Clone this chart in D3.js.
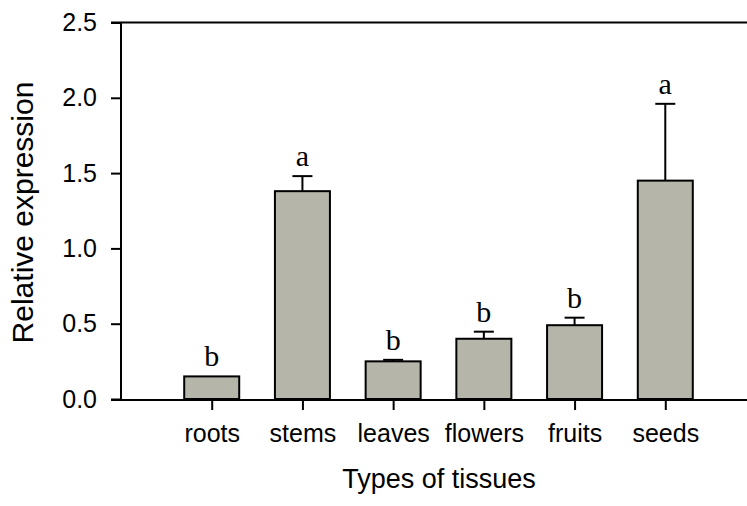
<!DOCTYPE html>
<html><head><meta charset="utf-8">
<script src="https://cdn.jsdelivr.net/npm/d3@7"></script>
<style>body{margin:0;background:#fff}svg{display:block}</style>
</head><body>
<svg id="chart" width="747" height="506"></svg>
<script>
const categories = ["roots","stems","leaves","flowers","fruits","seeds"];
const values = [0.15, 1.38, 0.25, 0.40, 0.49, 1.45];
const errors = [0.0, 0.10, 0.01, 0.047, 0.05, 0.51];
const letters = ["b","a","b","b","b","a"];
const yTicks = [0.0, 0.5, 1.0, 1.5, 2.0, 2.5];

const svg = d3.select("#chart");
const mLeft = 121, mRight = 756, mTop = 22.5, mBottom = 399;
const x = d3.scalePoint().domain(categories).range([mLeft, mRight]).padding(1);
const y = d3.scaleLinear().domain([0, 2.5]).range([mBottom, mTop]);
const barW = 55;

// bars
svg.selectAll("rect.bar").data(categories).enter().append("rect")
  .attr("x", d => x(d) - barW/2)
  .attr("y", (d,i) => y(values[i]))
  .attr("width", barW)
  .attr("height", (d,i) => y(0) - y(values[i]))
  .attr("fill", "#b5b5aa").attr("stroke", "#000").attr("stroke-width", 2);

// error bars
const eg = svg.append("g").attr("stroke", "#000").attr("stroke-width", 2);
categories.forEach((c,i) => {
  if (errors[i] <= 0) return;
  eg.append("line").attr("x1", x(c)).attr("x2", x(c)).attr("y1", y(values[i])).attr("y2", y(values[i]+errors[i]));
  eg.append("line").attr("x1", x(c)-10).attr("x2", x(c)+10).attr("y1", y(values[i]+errors[i])).attr("y2", y(values[i]+errors[i]));
});

// letters
svg.selectAll("text.sig").data(categories).enter().append("text")
  .attr("x", d => x(d))
  .attr("y", (d,i) => y(values[i]+errors[i]) - 10)
  .attr("text-anchor", "middle")
  .attr("font-family", "'Liberation Serif', 'Times New Roman', serif")
  .attr("font-size", 30)
  .text((d,i) => letters[i]);

// y axis
const yAxis = svg.append("g").attr("transform", `translate(${mLeft},0)`)
  .call(d3.axisLeft(y).tickValues(yTicks).tickFormat(d3.format(".1f")).tickSize(10).tickPadding(14));
yAxis.select(".domain").attr("stroke-width", 2).attr("d", `M0,${mTop}V${mBottom+2}`);
yAxis.selectAll(".tick line").attr("stroke-width", 2);
yAxis.selectAll(".tick text").attr("font-family", "'Liberation Sans', Arial, sans-serif").attr("font-size", 25).attr("fill", "#000");

// x axis
const xAxis = svg.append("g").attr("transform", `translate(0,${mBottom+1})`)
  .call(d3.axisBottom(x).tickSize(10).tickPadding(14));
xAxis.select(".domain").attr("stroke-width", 2).attr("d", `M${mLeft-10},0H${mRight}`);
xAxis.selectAll(".tick line").attr("stroke-width", 2);
xAxis.selectAll(".tick text").attr("font-family", "'Liberation Sans', Arial, sans-serif").attr("font-size", 25).attr("fill", "#000");

// top frame line
svg.append("line").attr("x1", mLeft-10).attr("x2", mRight).attr("y1", mTop).attr("y2", mTop)
  .attr("stroke", "#000").attr("stroke-width", 2);

// axis titles
svg.append("text").attr("transform", `translate(33,212.5) rotate(-90)`)
  .attr("text-anchor", "middle")
  .attr("font-family", "'Liberation Sans', Arial, sans-serif").attr("font-size", 30)
  .text("Relative expression");
svg.append("text").attr("x", 439).attr("y", 488)
  .attr("text-anchor", "middle")
  .attr("font-family", "'Liberation Sans', Arial, sans-serif").attr("font-size", 27)
  .text("Types of tissues");
</script>
</body></html>
